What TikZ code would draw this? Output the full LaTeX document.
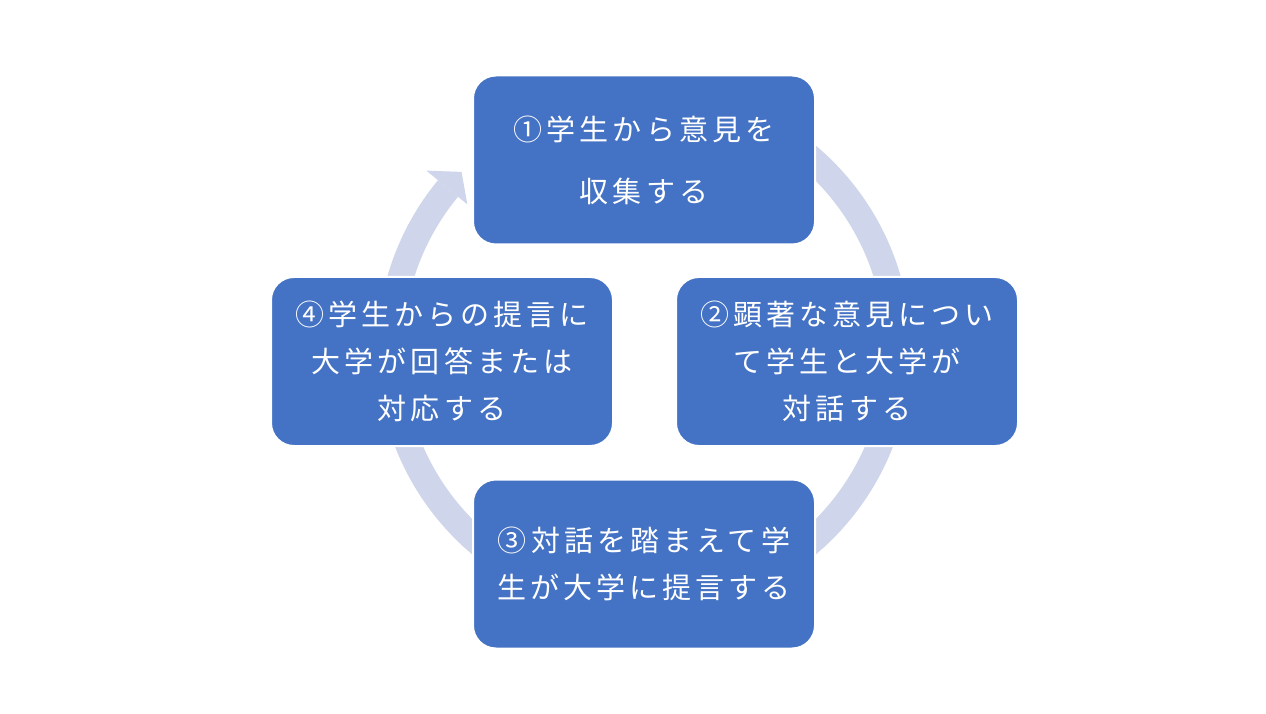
\documentclass[tikz,border=0pt]{standalone}
\usepackage{fontspec}
\newfontfamily\jp[LetterSpace=14]{Noto Sans CJK JP}
\definecolor{boxblue}{HTML}{4472C4}
\definecolor{ringblue}{HTML}{CFD5EA}
\tikzset{
  stepbox/.style={rectangle, rounded corners=23pt, minimum width=342pt, minimum height=169pt,
    fill=boxblue, draw=white, line width=2pt, text=white, align=center, inner sep=0pt,
    font=\jp\fontsize{29}{47}\selectfont},
  ringfill/.style={fill=ringblue, draw=none}
}
\begin{document}
\begin{tikzpicture}
\useasboundingbox (0pt,0pt) rectangle (1266pt,713pt);
\fill[white] (0pt,0pt) rectangle (1266pt,713pt);
\coordinate (c) at (644pt,363pt);
% ring with arrowhead
\fill[ringfill] ([shift={(90:267pt)}]c) arc[start angle=90, end angle=-219.5, radius=267pt]
  -- ([shift={(-219.5:241pt)}]c) arc[start angle=-219.5, end angle=90, radius=241pt] -- cycle;
\fill[ringfill] ([shift={(-219.5:229pt)}]c) -- ([shift={(-219.5:282pt)}]c) -- ([shift={(-224.3:255pt)}]c) -- cycle;
% boxes
\node[stepbox, font=\jp\fontsize{29}{62}\selectfont] (n1) at (644pt,553pt) {①学生から意見を\\収集する};
\node[stepbox] (n2) at (847pt,351.5pt) {②顕著な意見につい\\て学生と大学が\\対話する};
\node[stepbox] (n3) at (644pt,149pt) {③対話を踏まえて学\\生が大学に提言する};
\node[stepbox] (n4) at (442pt,351.5pt) {④学生からの提言に\\大学が回答または\\対応する};
\end{tikzpicture}
\end{document}
